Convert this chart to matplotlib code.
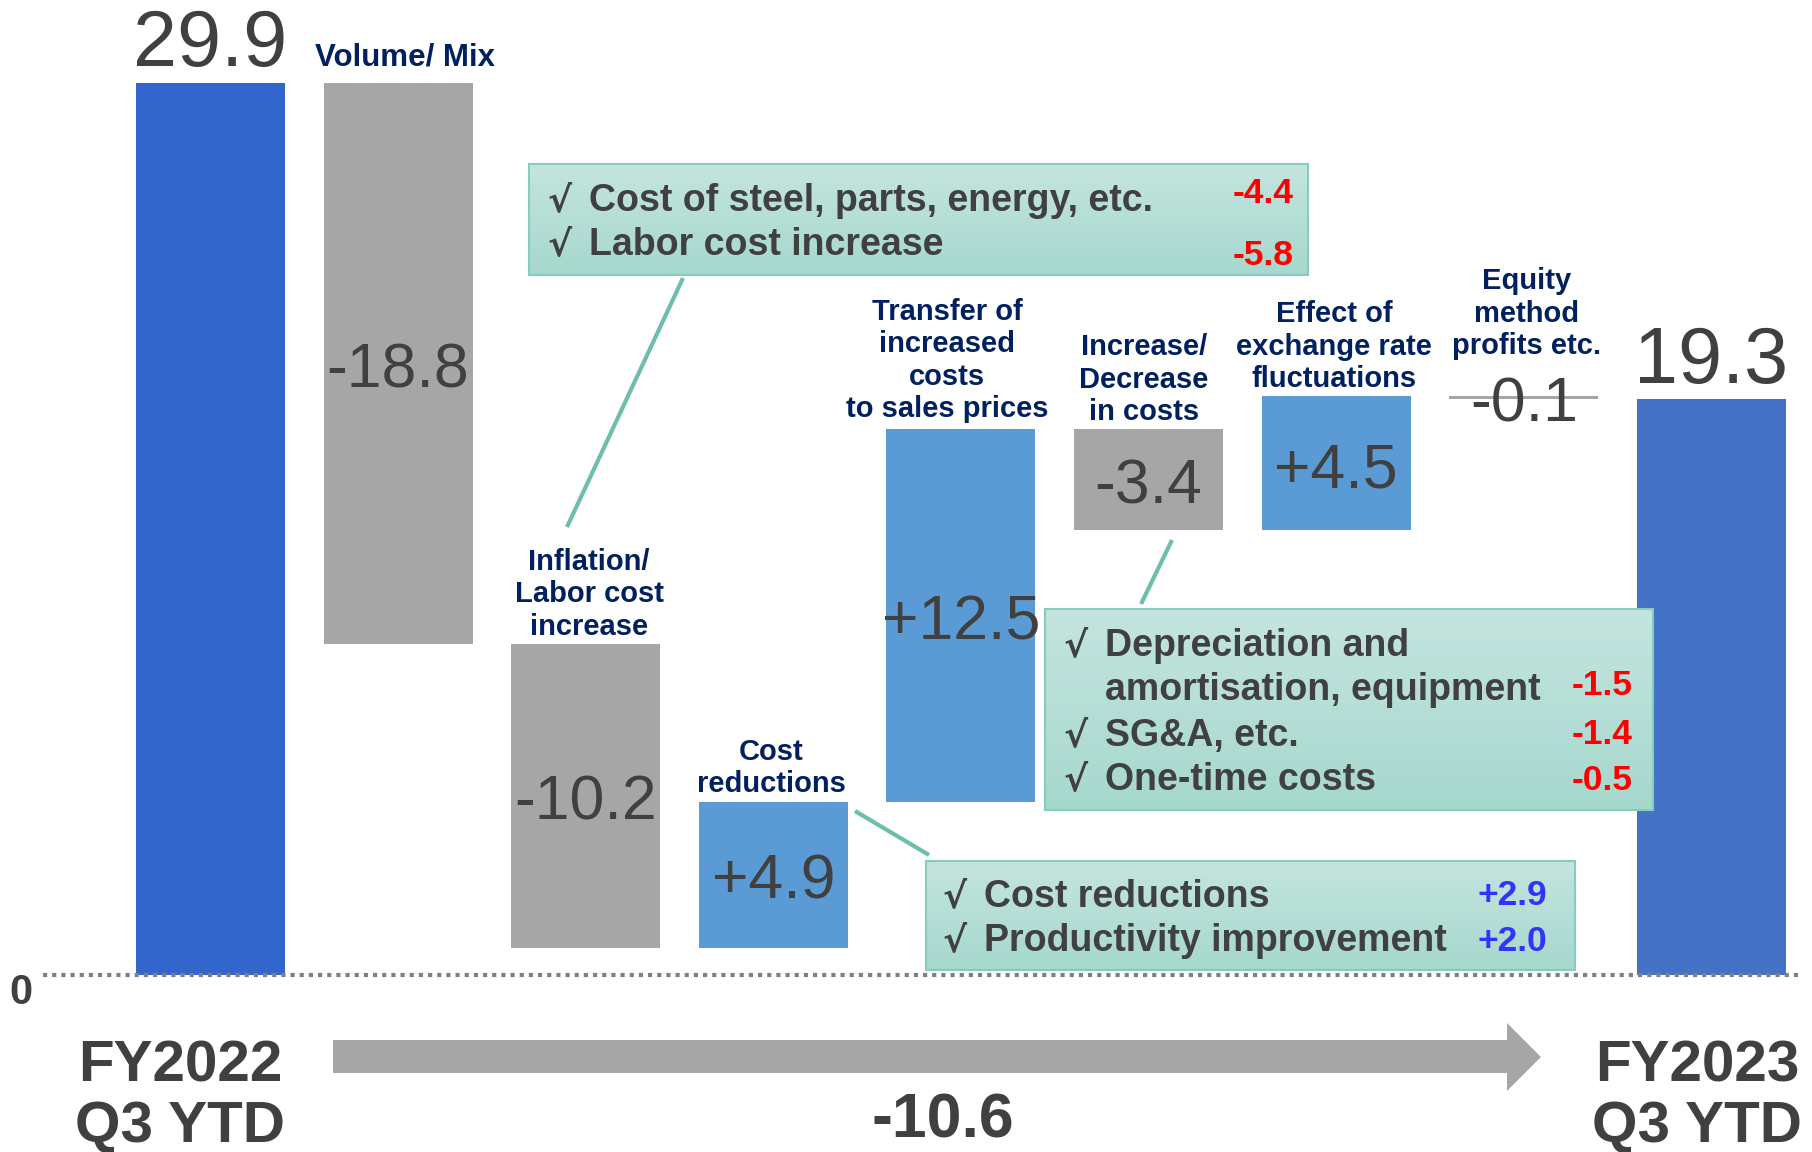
import numpy as np
import matplotlib.pyplot as plt
from matplotlib.patches import Rectangle, Polygon
from matplotlib.colors import LinearSegmentedColormap

plt.rcParams['font.family'] = ['Liberation Sans', 'DejaVu Sans']

# ---- data ----
categories = ['FY2022\nQ3 YTD', 'Volume/ Mix', 'Inflation/\nLabor cost\nincrease', 'Cost\nreductions',
              'Transfer of\nincreased\ncosts\nto sales prices', 'Increase/\nDecrease\nin costs',
              'Effect of\nexchange rate\nfluctuations', 'Equity\nmethod\nprofits etc.', 'FY2023\nQ3 YTD']
start_value = 29.9
changes = [-18.8, -10.2, 4.9, 12.5, -3.4, 4.5, -0.1]
end_value = 19.3
total_change = -10.6

steel_items = ['Cost of steel, parts, energy, etc.', 'Labor cost increase']
steel_values = [-4.4, -5.8]
cost_items = ['Depreciation and\namortisation, equipment', 'SG&A, etc.', 'One-time costs']
cost_values = [-1.5, -1.4, -0.5]
reduction_items = ['Cost reductions', 'Productivity improvement']
reduction_values = [2.9, 2.0]

# ---- layout (pixels of the 1812x1152 canvas) ----
W, H = 1812, 1152
X0, DX = 210.5, 187.6      # centre of first bar, bar spacing
Y0, UNIT = 974.5, 29.8     # zero line, pixels per unit
BW = 149 / DX

START_C, END_C = '#3366CC', '#4472C4'
POS_C, NEG_C = '#5B9BD5', '#A6A6A6'
NAVY, DARK = '#002060', '#404040'
BOX_EDGE, LINE_C = '#86CDBD', '#6FBDAD'


def dx(p):
    return (p - X0) / DX


def dy(p):
    return (Y0 - p) / UNIT


fig = plt.figure(figsize=(W / 100, H / 100), dpi=100)
ax = fig.add_axes([0, 0, 1, 1])
ax.axis('off')

# ---- waterfall bars ----
running = np.concatenate([[start_value], start_value + np.cumsum(changes)])
bottoms = running[:-1]
x_chg = np.arange(1, len(changes) + 1)
ax.bar(0, start_value, width=BW, color=START_C, zorder=2)
ax.bar(x_chg, changes, bottom=bottoms, width=BW,
       color=[POS_C if c > 0 else NEG_C for c in changes], zorder=2)
ax.bar(len(categories) - 1, end_value, width=BW, color=END_C, zorder=2)

# value labels inside the change bars
for x, b, c in zip(x_chg, bottoms, changes):
    ax.text(x, b + c / 2 - 24 / UNIT, f'{c:+.1f}', ha='center', va='baseline',
            fontsize=45, color=DARK, zorder=6)
ax.text(0, start_value + 17 / UNIT, f'{start_value:.1f}', ha='center', va='baseline',
        fontsize=57, color=DARK, zorder=6)
ax.text(len(categories) - 1, end_value + 16 / UNIT, f'{end_value:.1f}', ha='center',
        va='baseline', fontsize=57, color=DARK, zorder=6)

# zero line
ax.axhline(0, xmin=43 / W, xmax=1802 / W, color='#808080', lw=3, ls=(0, (1, 1.2)), zorder=3)
ax.text(dx(20.5), dy(1004), '0', ha='center', va='baseline', fontsize=30,
        fontweight='bold', color=DARK)

# category labels above bars (centre x, last-line baseline)
label_pos = [(405, 65), (589, 635), (771, 792), (947, 417), (1144, 420), (1334, 387), (1527, 354)]
for name, (px, pb) in zip(categories[1:-1], label_pos):
    lines = name.split('\n')
    size = 22.5 if len(lines) == 1 else 21
    for k, line in enumerate(lines):
        yb = pb - (len(lines) - 1 - k) * 32.5
        ax.text(dx(px), dy(yb), line, ha='center', va='baseline', fontsize=size,
                fontweight='bold', color=NAVY, zorder=6)

# ---- bottom: period labels and arrow ----
for name, px in [(categories[0], 180), (categories[-1], 1697)]:
    for k, line in enumerate(name.split('\n')):
        ax.text(dx(px), dy(1082 + 60 * k), line, ha='center', va='baseline', fontsize=42,
                fontweight='bold', color=DARK)

arrow = [(333, 1040), (1507, 1040), (1507, 1023), (1541, 1057), (1507, 1091), (1507, 1073), (333, 1073)]
ax.add_patch(Polygon([(dx(a), dy(b)) for a, b in arrow], closed=True, color='#A6A6A6', lw=0))
ax.text(dx(943), dy(1138), f'{total_change:.1f}', ha='center', va='baseline', fontsize=45,
        fontweight='bold', color=DARK)

# ---- callout boxes ----
box_cmap = LinearSegmentedColormap.from_list('box', ['#C4E5DF', '#A6D8CD'])


def callout(box, items, values, vcolor, x_check, x_val, y_lines, y_vals, link):
    x0, y0, x1, y1 = box
    grad = np.linspace(0, 1, 64).reshape(-1, 1)
    ax.imshow(grad, cmap=box_cmap, extent=(dx(x0), dx(x1), dy(y1), dy(y0)),
              origin='upper', aspect='auto', zorder=4)
    ax.add_patch(Rectangle((dx(x0), dy(y1)), dx(x1) - dx(x0), dy(y0) - dy(y1),
                           fill=False, ec=BOX_EDGE, lw=1.5, zorder=5))
    (lx0, ly0), (lx1, ly1) = link
    ax.plot([dx(lx0), dx(lx1)], [dy(ly0), dy(ly1)], color=LINE_C, lw=3, zorder=3,
            solid_capstyle='butt')
    i = 0
    for item in items:
        for k, line in enumerate(item.split('\n')):
            if k == 0:
                ax.text(dx(x_check - 2), dy(y_lines[i]), '\u221a', ha='left', va='baseline',
                        fontsize=26, fontweight='bold', family=['DejaVu Sans'],
                        color=DARK, zorder=6)
            ax.text(dx(x_check + 39), dy(y_lines[i]), line, ha='left', va='baseline',
                    fontsize=27, fontweight='bold', color=DARK, zorder=6)
            i += 1
    for v, yv in zip(values, y_vals):
        ax.text(dx(x_val), dy(yv), f'{v:+.1f}', ha='right', va='baseline', fontsize=25.5,
                fontweight='bold', color=vcolor, zorder=6)


callout((529, 164, 1308, 275), steel_items, steel_values, '#FF0000', 550, 1294,
        [211, 255], [203, 265], ((683, 278), (567, 527)))
callout((1045, 609, 1653, 810), cost_items, cost_values, '#FF0000', 1066, 1633,
        [656, 700, 746, 790], [695, 744, 790], ((1172, 540), (1141, 604)))
callout((926, 861, 1575, 970), reduction_items, reduction_values, '#3333FF', 945, 1547,
        [907, 951], [905, 951], ((855, 811), (929, 855)))

ax.set_xlim(dx(0), dx(W))
ax.set_ylim(dy(H), dy(0))

fig.savefig('out.png', dpi=100)
